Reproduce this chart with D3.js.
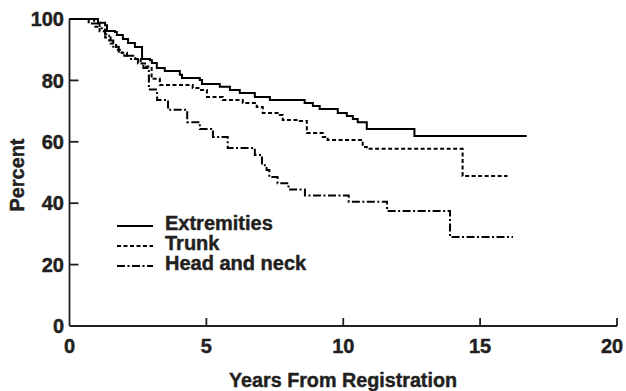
<!DOCTYPE html>
<html>
<head>
<meta charset="utf-8">
<script src="https://cdn.jsdelivr.net/npm/d3@7"></script>
<style>
  html, body { margin: 0; padding: 0; background: #fff; }
  svg text { font-family: "Liberation Sans", Arial, sans-serif; font-weight: bold; fill: #231f20; stroke: #231f20; stroke-width: 0.45px; }
</style>
</head>
<body>
<svg id="chart" width="626" height="391"></svg>
<script>
// ---- Data (years, percent surviving) ----
const extremities = [
  [0,100],[1.04,98.8],[1.3,98],[1.37,96.1],[1.66,95.8],[1.73,94.8],[1.95,93.5],[2.14,92.2],
  [2.39,90.9],[2.65,87],[2.94,86.6],[3.01,85.7],[3.19,84],[3.48,83.1],[4.03,81.8],[4.11,80.8],
  [4.76,80.1],[4.84,78.8],[5.49,77.9],[5.86,76.9],[6.22,75.9],[6.77,74.6],[7.32,73.6],[8.59,72.6],
  [8.89,71.7],[9.14,70.7],[9.8,69.4],[10.13,68.4],[10.35,67.4],[10.53,66.4],[10.86,64.2],
  [12.6,61.9],[16.7,61.9]
];
const trunk = [
  [0,100],[0.7,98.5],[0.9,97.5],[1.1,96],[1.3,94],[1.5,92],[1.7,90],[1.9,89],[2.1,88],
  [2.4,87],[2.6,85.5],[2.8,84.5],[3.0,80.5],[3.3,78.5],[4.5,77.5],[4.76,76.9],[5.02,74.6],
  [5.6,73.6],[6.33,72.6],[6.84,71.3],[7.06,69.4],[7.68,68.7],[7.79,67.1],[8.41,66.8],[8.67,62.9],
  [9.25,61.6],[9.43,60.6],[10.71,58.3],[10.86,57.7],[14.36,48.9],[16.0,48.9]
];
const headNeck = [
  [0,100],[0.9,98.5],[1.1,97],[1.3,95],[1.45,93],[1.6,91],[1.8,89],[2.0,88],[2.2,87],
  [2.5,85.5],[2.7,84],[2.9,77],[3.2,73.6],[3.6,70.4],[4.3,66.4],[4.76,64.2],[5.24,61.6],
  [5.78,58],[6.77,55.7],[7.03,52.4],[7.2,50.8],[7.3,48.5],[7.6,46.5],[8.0,44.5],[8.6,42.5],
  [10.2,40.5],[11.6,37.5],[13.9,29],[16.2,29]
];
const seriesNames = ["Extremities", "Trunk", "Head and neck"];
const xTicks = [0, 5, 10, 15, 20];
const yTicks = [0, 20, 40, 60, 80, 100];
const xTitle = "Years From Registration";
const yTitle = "Percent";

// ---- Layout ----
const svg = d3.select("#chart");
const x = d3.scaleLinear().domain([0, 20]).range([69.5, 617]);
const y = d3.scaleLinear().domain([0, 100]).range([326, 19]);
const dashes = [null, "4,2.5", "8,2.5,2,2.5"];
const allSeries = [extremities, trunk, headNeck];
const fs = 20;

// axes lines
const axisG = svg.append("g").attr("stroke", "#231f20").attr("stroke-width", 1.8).attr("fill", "none");
axisG.append("line").attr("x1", x(0)).attr("x2", x(0)).attr("y1", y(0)).attr("y2", y(100));
axisG.append("line").attr("x1", x(0)).attr("x2", x(20)).attr("y1", y(0)).attr("y2", y(0));
axisG.selectAll(".yt").data(yTicks.filter(d => d > 0 && d < 100)).enter().append("line")
  .attr("x1", x(0)).attr("x2", x(0) + 9).attr("y1", d => y(d)).attr("y2", d => y(d));
axisG.selectAll(".xt").data(xTicks.filter(d => d > 0)).enter().append("line")
  .attr("x1", d => x(d)).attr("x2", d => x(d)).attr("y1", y(0)).attr("y2", y(0) - 8);

// tick labels
svg.selectAll(".ylab").data(yTicks).enter().append("text")
  .attr("x", 64).attr("y", d => y(d)).attr("dy", "0.36em")
  .attr("text-anchor", "end").attr("font-size", fs).text(d => d);
svg.selectAll(".xlab").data(xTicks).enter().append("text")
  .attr("x", d => d === 20 ? x(d) - 5 : x(d)).attr("y", 353)
  .attr("text-anchor", "middle").attr("font-size", fs).text(d => d);

// titles
svg.append("text").attr("x", 343).attr("y", 387)
  .attr("text-anchor", "middle").attr("font-size", fs)
  .attr("textLength", 228).attr("lengthAdjust", "spacingAndGlyphs").text(xTitle);
svg.append("text").attr("transform", "translate(24,175) rotate(-90)")
  .attr("text-anchor", "middle").attr("font-size", fs)
  .attr("textLength", 73).attr("lengthAdjust", "spacingAndGlyphs").text(yTitle);

// curves
const line = d3.line().x(d => x(d[0])).y(d => y(d[1])).curve(d3.curveStepAfter);
svg.selectAll(".curve").data(allSeries).enter().append("path")
  .attr("d", d => line(d))
  .attr("fill", "none").attr("stroke", "#000").attr("stroke-width", 2)
  .attr("stroke-dasharray", (d, i) => dashes[i]);

// legend
const lg = svg.append("g");
const legendLen = [102, 50, 110];
seriesNames.forEach((name, i) => {
  const by = 230 + i * 20;
  lg.append("line").attr("x1", 117).attr("x2", 153).attr("y1", by - 4).attr("y2", by - 4)
    .attr("stroke", "#000").attr("stroke-width", 2).attr("stroke-dasharray", dashes[i]);
  lg.append("text").attr("x", 165).attr("y", by).attr("font-size", fs).text(name);
});
</script>
</body>
</html>
